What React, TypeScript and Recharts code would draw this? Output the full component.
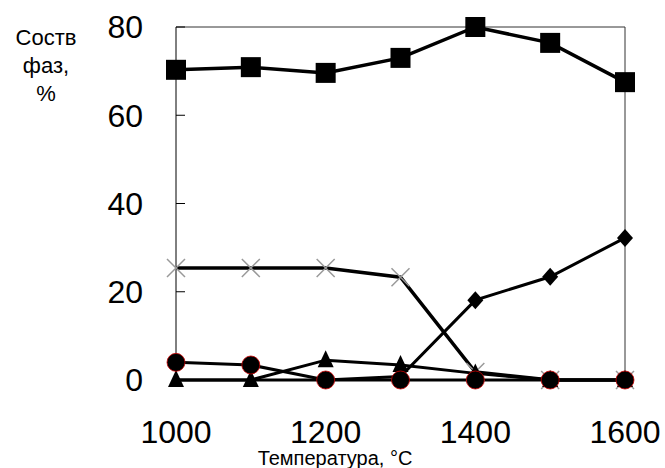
import React from 'react';
import { LineChart, Line, XAxis, YAxis, ReferenceLine } from 'recharts';

const temperatures = [1000, 1100, 1200, 1300, 1400, 1500, 1600];
const squares = [70.3, 70.9, 69.6, 73.0, 80.0, 76.4, 67.5];
const crosses = [25.4, 25.4, 25.4, 23.3, 1.8, 0, 0];
const diamonds = [0, 0, 0, 0.8, 18.1, 23.4, 32.2];
const triangles = [0, 0, 4.5, 3.4, 1.5, 0, 0];
const circles = [4.0, 3.4, 0, 0, 0, 0, 0];
const xTicks = [1000, 1200, 1400, 1600];
const yTicks = [0, 20, 40, 60, 80];

const data = temperatures.map((t, i) => ({
  t,
  sq: squares[i],
  cr: crosses[i],
  di: diamonds[i],
  tr: triangles[i],
  ci: circles[i],
}));

const font = "Arial, 'Liberation Sans', sans-serif";

const SquareDot = (p: any) => (
  <rect key={p.key} x={p.cx - 10} y={p.cy - 10} width={20} height={20} fill="#000" />
);

const CrossDot = (p: any) => (
  <path
    key={p.key}
    d={`M${p.cx - 9},${p.cy - 9}L${p.cx + 9},${p.cy + 9}M${p.cx + 9},${p.cy - 9}L${p.cx - 9},${p.cy + 9}`}
    stroke="#999"
    strokeWidth={1.5}
  />
);

const DiamondDot = (p: any) =>
  p.value > 0.5 ? (
    <path
      key={p.key}
      d={`M${p.cx},${p.cy - 9}L${p.cx + 8},${p.cy}L${p.cx},${p.cy + 9}L${p.cx - 8},${p.cy}Z`}
      fill="#000"
    />
  ) : (
    <g key={p.key} />
  );

const TriangleDot = (p: any) => (
  <path
    key={p.key}
    d={`M${p.cx},${p.cy - 10}L${p.cx + 8},${p.cy + 7}L${p.cx - 8},${p.cy + 7}Z`}
    fill="#000"
  />
);

const CircleDot = (p: any) => (
  <circle key={p.key} cx={p.cx} cy={p.cy} r={9} fill="#000" stroke="#c00" strokeWidth={0.8} />
);

const YLabel = () => (
  <text fontFamily={font} fontSize={22} fill="#000" textAnchor="middle">
    <tspan x={46} y={45}>Соств</tspan>
    <tspan x={46} y={73}>фаз,</tspan>
    <tspan x={46} y={101}>%</tspan>
  </text>
);

const XLabel = () => (
  <text x={335} y={465} fontFamily={font} fontSize={20} fill="#000" textAnchor="middle">
    Температура, °C
  </text>
);

export default function App() {
  return (
    <div style={{ position: 'absolute', left: 0, top: 0, background: '#fff' }}>
      <LineChart width={665} height={468} data={data} margin={{ top: 27, right: 40, bottom: 28, left: 0 }}>
        <XAxis
          dataKey="t"
          type="number"
          domain={[1000, 1600]}
          ticks={xTicks}
          interval={0}
          tickLine={false}
          tickSize={0}
          tickMargin={40}
          height={60}
          axisLine={{ stroke: '#000', strokeWidth: 1 }}
          tick={{ fill: '#000', fontSize: 32, fontFamily: font }}
          label={<XLabel />}
        />
        <YAxis
          type="number"
          domain={[0, 80]}
          ticks={yTicks}
          interval={0}
          width={176}
          tickSize={-9}
          tickMargin={42}
          tickLine={{ stroke: '#000' }}
          axisLine={{ stroke: '#000', strokeWidth: 1 }}
          tick={{ fill: '#000', fontSize: 32, fontFamily: font }}
          label={<YLabel />}
        />
        <ReferenceLine y={80} stroke="#333" strokeWidth={1} />
        <ReferenceLine x={1600} stroke="#333" strokeWidth={1} />
        <Line dataKey="sq" stroke="#000" strokeWidth={3.5} dot={SquareDot} isAnimationActive={false} />
        <Line dataKey="cr" stroke="#000" strokeWidth={3.5} dot={CrossDot} isAnimationActive={false} />
        <Line dataKey="di" stroke="#000" strokeWidth={3} dot={DiamondDot} isAnimationActive={false} />
        <Line dataKey="tr" stroke="#000" strokeWidth={3} dot={TriangleDot} isAnimationActive={false} />
        <Line dataKey="ci" stroke="#000" strokeWidth={3} dot={CircleDot} isAnimationActive={false} />
      </LineChart>
    </div>
  );
}
